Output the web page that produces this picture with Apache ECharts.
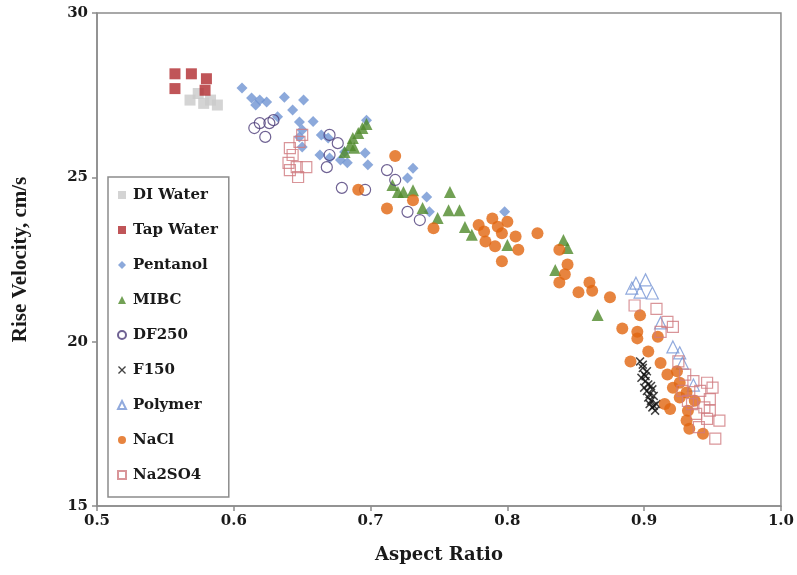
<!DOCTYPE html>
<html>
<head>
<meta charset="utf-8">
<script src="https://cdn.jsdelivr.net/npm/echarts@6/dist/echarts.min.js"></script>
<style>
  html, body { margin: 0; padding: 0; background: #fff; }
  #chart { width: 797px; height: 575px; }
</style>
</head>
<body>
<div id="chart"></div>
<script>
// Bubble rise velocity (cm/s) against bubble aspect ratio, per liquid
const diWater = [[0.568,27.35],[0.574,27.55],[0.583,27.35],[0.588,27.2],[0.578,27.25]];
const tapWater = [[0.557,28.15],[0.569,28.15],[0.580,28.0],[0.557,27.7],[0.579,27.65]];
const pentanol = [[0.606,27.72],[0.613,27.41],[0.619,27.35],[0.624,27.29],[0.637,27.44],[0.651,27.35],
  [0.643,27.05],[0.632,26.84],[0.648,26.68],[0.650,26.44],[0.648,26.23],[0.650,25.92],[0.664,26.29],
  [0.669,26.2],[0.663,25.68],[0.670,25.59],[0.678,25.53],[0.681,25.77],[0.683,25.44],[0.697,26.74],
  [0.696,25.74],[0.698,25.38],[0.731,25.28],[0.727,24.98],[0.741,24.4],[0.743,23.95],[0.798,23.95],
  [0.616,27.2],[0.658,26.7]];
const mibc = [[0.681,25.77],[0.685,25.98],[0.687,26.2],[0.691,26.35],[0.694,26.5],[0.697,26.62],
  [0.716,24.77],[0.720,24.55],[0.724,24.55],[0.731,24.61],[0.738,24.07],[0.749,23.76],[0.758,24.55],
  [0.757,24.0],[0.765,24.0],[0.769,23.49],[0.774,23.25],[0.800,22.94],[0.841,23.09],[0.844,22.85],
  [0.835,22.18],[0.866,20.81],[0.688,25.9]];
const df250 = [[0.619,26.65],[0.626,26.65],[0.623,26.23],[0.629,26.74],[0.615,26.5],[0.670,26.29],
  [0.676,26.04],[0.670,25.68],[0.668,25.31],[0.679,24.68],[0.696,24.62],[0.712,25.22],[0.718,24.92],
  [0.727,23.95],[0.736,23.7]];
const f150 = [[0.897,19.4],[0.899,19.2],[0.900,19.0],[0.898,18.9],[0.901,18.8],[0.903,18.7],[0.900,18.6],
  [0.902,18.5],[0.904,18.4],[0.903,18.3],[0.905,18.2],[0.904,18.1],[0.906,18.0],[0.908,17.9],
  [0.907,18.35],[0.905,18.65],[0.909,18.1],[0.902,19.1],[0.899,19.3],[0.901,18.95],[0.906,18.55],
  [0.907,18.05]];
const polymer = [[0.901,21.88],[0.891,21.63],[0.897,21.51],[0.906,21.48],[0.894,21.78],[0.912,20.57],
  [0.921,19.84],[0.926,19.66],[0.928,19.35],[0.936,18.68]];
const nacl = [[0.718,25.65],[0.691,24.62],[0.712,24.05],[0.731,24.3],[0.746,23.45],[0.779,23.55],
  [0.789,23.75],[0.800,23.65],[0.796,23.3],[0.806,23.2],[0.784,23.05],[0.791,22.9],[0.808,22.8],
  [0.796,22.45],[0.822,23.3],[0.838,22.8],[0.844,22.35],[0.842,22.05],[0.838,21.8],[0.852,21.5],
  [0.860,21.8],[0.862,21.55],[0.875,21.35],[0.897,20.8],[0.884,20.4],[0.895,20.3],[0.895,20.1],
  [0.910,20.15],[0.903,19.7],[0.890,19.4],[0.912,19.35],[0.924,19.1],[0.926,18.75],[0.931,18.45],
  [0.926,18.3],[0.919,17.95],[0.932,17.9],[0.931,17.6],[0.933,17.35],[0.943,17.2],[0.937,18.2],
  [0.915,18.1],[0.921,18.6],[0.917,19.0],[0.783,23.35],[0.793,23.5]];
const na2so4 = [[0.641,25.89],[0.648,26.08],[0.650,26.29],[0.640,25.44],[0.646,25.31],[0.653,25.31],
  [0.647,25.01],[0.641,25.22],[0.643,25.68],
  [0.893,21.1],[0.909,21.0],[0.917,20.6],[0.921,20.45],[0.912,20.3],[0.925,19.4],[0.930,19.0],
  [0.936,18.8],[0.941,18.5],[0.946,18.75],[0.950,18.6],[0.948,18.25],[0.944,18.0],[0.948,17.9],
  [0.946,17.65],[0.955,17.6],[0.952,17.05],[0.938,17.8],[0.932,18.2],[0.928,18.5],[0.940,17.4],
  [0.935,18.1]];

const xTicks = [0.5, 0.6, 0.7, 0.8, 0.9, 1.0];
const yTicks = [15, 20, 25, 30];

const serifBold = { fontFamily: 'DejaVu Serif', fontWeight: 'bold', color: '#1a1a1a' };
const axisGray = '#8c8c8c';
const crossPath = 'path://M0,1.2L1.2,0L5,3.8L8.8,0L10,1.2L6.2,5L10,8.8L8.8,10L5,6.2L1.2,10L0,8.8L3.8,5Z';

function scatter(name, data, symbol, size, itemStyle) {
  return { name, type: 'scatter', data, symbol, symbolSize: size, itemStyle, z: 3 };
}

const chart = echarts.init(document.getElementById('chart'), null, { renderer: 'canvas' });
chart.setOption({
  animation: false,
  backgroundColor: '#fff',
  grid: { left: 97, right: 16, top: 13, bottom: 69, show: true, borderColor: axisGray, borderWidth: 1.5 },
  xAxis: {
    type: 'value', min: xTicks[0], max: xTicks[xTicks.length - 1], interval: 0.1,
    name: 'Aspect Ratio', nameLocation: 'middle', nameGap: 40,
    nameTextStyle: Object.assign({ fontSize: 18 }, serifBold),
    axisLine: { show: true, lineStyle: { color: axisGray, width: 1.5 } },
    axisTick: { show: true, inside: false, length: 5, lineStyle: { color: axisGray, width: 1.5 } },
    splitLine: { show: false },
    axisLabel: Object.assign({ fontSize: 15, margin: 8, formatter: v => v.toFixed(1) }, serifBold)
  },
  yAxis: {
    type: 'value', min: yTicks[0], max: yTicks[yTicks.length - 1], interval: 5,
    name: 'Rise Velocity, cm/s', nameLocation: 'middle', nameGap: 66, nameRotate: 90,
    nameTextStyle: { fontFamily: 'Liberation Serif', fontWeight: 'bold', fontSize: 21, color: '#1a1a1a' },
    axisLine: { show: true, lineStyle: { color: axisGray, width: 1.5 } },
    axisTick: { show: true, inside: false, length: 5, lineStyle: { color: axisGray, width: 1.5 } },
    splitLine: { show: false },
    axisLabel: Object.assign({ fontSize: 15, margin: 9 }, serifBold)
  },
  legend: {
    orient: 'vertical', left: 108, top: 177,
    padding: [10, 11, 14, 9],
    itemWidth: 8, itemHeight: 8, itemGap: 19,
    backgroundColor: '#fff', borderColor: axisGray, borderWidth: 1.5,
    textStyle: Object.assign({ fontSize: 15, lineHeight: 16, padding: [0, 0, 0, 2] }, serifBold),
    data: ['DI Water', 'Tap Water', 'Pentanol', 'MIBC', 'DF250', 'F150', 'Polymer', 'NaCl', 'Na2SO4']
  },
  series: [
    scatter('DI Water', diWater, 'rect', 11, { color: '#c9c9c9' }),
    scatter('Tap Water', tapWater, 'rect', 11, { color: '#b02a2e' }),
    scatter('Pentanol', pentanol, 'diamond', 11, { color: '#6f94d2' }),
    scatter('MIBC', mibc, 'triangle', 12, { color: '#4f8a2a' }),
    scatter('DF250', df250, 'circle', 11, { color: 'rgba(255,255,255,0)', borderColor: '#4b3b78', borderWidth: 1.2 }),
    scatter('F150', f150, crossPath, 9, { color: '#141414' }),
    scatter('Polymer', polymer, 'triangle', 12, { color: 'rgba(255,255,255,0)', borderColor: '#7595d4', borderWidth: 1.2 }),
    scatter('NaCl', nacl, 'circle', 12, { color: '#e1650f' }),
    scatter('Na2SO4', na2so4, 'rect', 11, { color: 'rgba(255,255,255,0)', borderColor: '#cf7b7f', borderWidth: 1.2 })
  ]
});
</script>
</body>
</html>
